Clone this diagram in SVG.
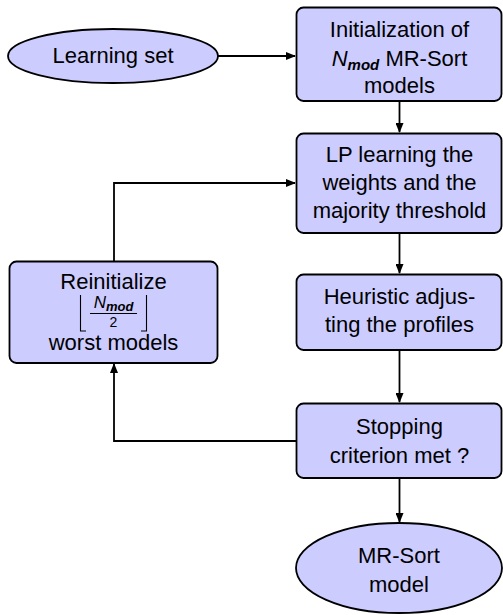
<svg xmlns="http://www.w3.org/2000/svg" width="503" height="615" viewBox="0 0 503 615">
<defs>
<style>
.n{fill:#ccccff;stroke:#000;stroke-width:1.8}
.t{font-family:"Liberation Sans",Arial,sans-serif;font-size:22px;fill:#000;text-anchor:middle}
.c{fill:none;stroke:#000;stroke-width:1.8}
.b{fill:none;stroke:#000;stroke-width:1.1}
</style>
<marker id="ah" markerWidth="10" markerHeight="8" refX="9" refY="4" orient="auto" markerUnits="userSpaceOnUse">
<path d="M0,0 L10,4 L0,8 Z" fill="#000"/>
</marker>
</defs>
<g id="connectors">
<line class="c" x1="218" y1="56" x2="295" y2="56" marker-end="url(#ah)"/>
<line class="c" x1="399.5" y1="101" x2="399.5" y2="132" marker-end="url(#ah)"/>
<line class="c" x1="399.5" y1="233" x2="399.5" y2="273" marker-end="url(#ah)"/>
<line class="c" x1="399.5" y1="350" x2="399.5" y2="402" marker-end="url(#ah)"/>
<line class="c" x1="399.5" y1="478" x2="399.5" y2="522" marker-end="url(#ah)"/>
<polyline class="c" points="296,441 114,441 114,364" marker-end="url(#ah)"/>
<polyline class="c" points="114,261 114,183 295,183" marker-end="url(#ah)"/>
</g>
<g id="learning-set">
<ellipse class="n" cx="113" cy="56" rx="105" ry="27"/>
<text class="t" x="113" y="63">Learning set</text>
</g>
<g id="initialization">
<rect class="n" x="296.5" y="7.5" width="205" height="93.5" rx="7"/>
<text class="t" x="399.5" y="37">Initialization of</text>
<text class="t" x="399.5" y="66"><tspan font-style="italic">N</tspan><tspan font-style="italic" font-weight="bold" font-size="15" dy="4">mod</tspan><tspan dy="-4"> MR-Sort</tspan></text>
<text class="t" x="399.5" y="93">models</text>
</g>
<g id="lp-learning">
<rect class="n" x="296.5" y="133.5" width="205" height="99.5" rx="7"/>
<text class="t" x="399.5" y="162">LP learning the</text>
<text class="t" x="399.5" y="190">weights and the</text>
<text class="t" x="399.5" y="218">majority threshold</text>
</g>
<g id="heuristic">
<rect class="n" x="296.5" y="274.5" width="205" height="75.5" rx="7"/>
<text class="t" x="399.5" y="304">Heuristic adjus-</text>
<text class="t" x="399.5" y="332">ting the profiles</text>
</g>
<g id="reinitialize">
<rect class="n" x="9.5" y="261.5" width="208" height="101.5" rx="7"/>
<text class="t" x="113.5" y="308" style="font-size:17px"><tspan font-style="italic">N</tspan><tspan font-style="italic" font-weight="bold" font-size="13" dy="3">mod</tspan></text>
<text class="t" x="113.5" y="289">Reinitialize</text>
<line x1="90" y1="313.5" x2="137" y2="313.5" stroke="#000" stroke-width="1"/>
<text class="t" x="113.5" y="327" style="font-size:14px">2</text>
<path class="b" d="M80.5,295 V331 H86"/>
<path class="b" d="M146.5,295 V331 H141"/>
<text class="t" x="113.5" y="350">worst models</text>
</g>
<g id="stopping">
<rect class="n" x="296.5" y="403.5" width="205" height="74.5" rx="7"/>
<text class="t" x="399.5" y="434">Stopping</text>
<text class="t" x="399.5" y="463">criterion met ?</text>
</g>
<g id="mr-sort-model">
<ellipse class="n" cx="399" cy="568" rx="103" ry="45"/>
<text class="t" x="399" y="563">MR-Sort</text>
<text class="t" x="399" y="592">model</text>
</g>
</svg>
